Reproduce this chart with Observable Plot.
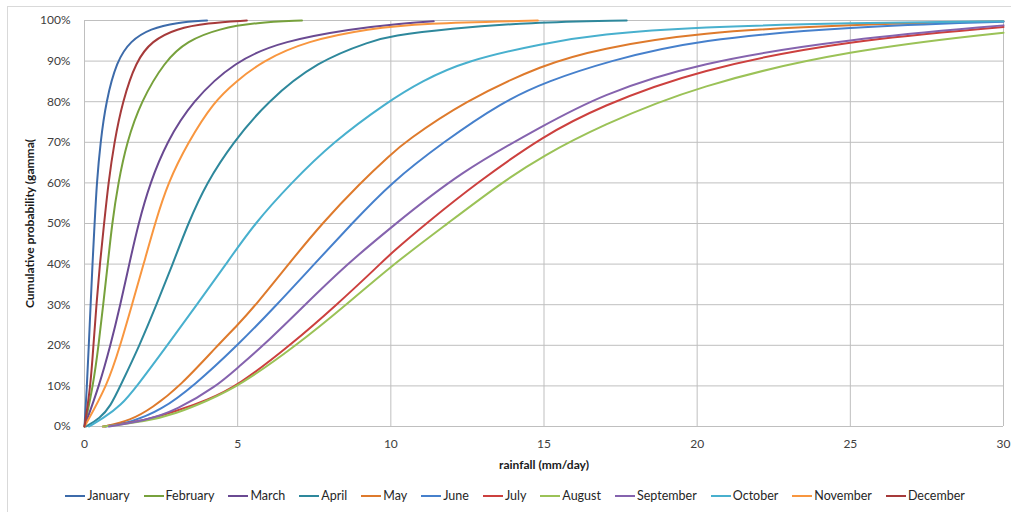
<!DOCTYPE html>
<html>
<head>
<meta charset="utf-8">
<script src="https://cdn.jsdelivr.net/npm/d3@7"></script>
<script src="https://cdn.jsdelivr.net/npm/@observablehq/plot@0.6"></script>
<style>
  body { margin: 0; background: #fff; font-family: Lato, "Open Sans", sans-serif; }
  #wrap { position: relative; width: 1011px; height: 512px; overflow: hidden; }
  #frame { position: absolute; left: 7px; top: 6px; width: 1100px; height: 600px; border: 1px solid #d9d9d9; box-sizing: border-box; }
  #chart { position: absolute; left: 0; top: 0; }
  #legend { position: absolute; left: 0; top: 487px; width: 1030px; display: flex; justify-content: center; gap: 14px; font-size: 12.5px; color: #262626; line-height: 18px; }
  .item { display: flex; align-items: center; gap: 2px; white-space: nowrap; }
  .sw { display: inline-block; width: 20px; height: 2px; }
</style>
</head>
<body>
<div id="wrap">
  <div id="frame"></div>
  <div id="chart"></div>
  <div id="legend"></div>
</div>
<script>
// Months and colours
const months = ["January","February","March","April","May","June","July","August","September","October","November","December"];
const colors = ["#3d6baa","#77a13c","#6a4a92","#2e889c","#de7a2c","#4680cc","#cc403e","#9bc257","#8563ae","#48b0ce","#f8963f","#a63a3a"];

// Axis ticks and labels
const xTicks = [0, 5, 10, 15, 20, 25, 30];
const yTicks = [0, 0.1, 0.2, 0.3, 0.4, 0.5, 0.6, 0.7, 0.8, 0.9, 1];
const xLabel = "rainfall (mm/day)";
const yLabel = "Cumulative probability (gamma(";

// Read-off points: [rainfall mm/day, cumulative %]
const january  = [[0,0],[0.08,10],[0.14,20],[0.2,30],[0.26,40],[0.33,50],[0.4,60],[0.52,70],[0.7,80],[1.05,90],[1.5,95],[2.15,98],[3.0,99.5],[4.0,100]];
const february = [[0,0],[0.28,10],[0.46,20],[0.61,30],[0.76,40],[0.9,50],[1.1,60],[1.38,70],[1.84,80],[2.62,90],[3.35,95],[4.4,98],[5.6,99.5],[7.1,100]];
const march    = [[0,0],[0.48,10],[0.85,20],[1.17,30],[1.46,40],[1.76,50],[2.14,60],[2.68,70],[3.5,80],[4.9,90],[6.5,95],[8.8,98],[10,99],[11.4,99.8]];
const april    = [[0.05,0],[0.5,2],[0.85,5],[1.17,10],[1.8,20],[2.35,30],[2.88,40],[3.38,50],[3.98,60],[4.85,70],[5.96,80],[7.6,90],[9.4,95],[10,96.2],[11.9,98],[14.5,99.5],[17.7,100]];
const may      = [[0.65,0],[1.5,1.5],[2.2,4.5],[3.13,10],[4.35,20],[5.0,25],[5.6,30],[6.66,40],[7.75,50],[9.0,60],[10,67],[10.45,70],[12.37,80],[15,89.3],[16.8,93],[20,97.1],[25,99],[30,99.8]];
const june     = [[0.7,0],[1.5,1],[2.5,4],[3.57,10],[5.0,20],[6.28,30],[7.5,40],[8.73,50],[10,60],[11.7,70],[13.65,80],[15.1,85],[17.1,90],[20,95.3],[25,98.5],[30,99.7]];
const july     = [[0.6,0],[2,1.5],[3,3.8],[4,6.5],[5.0,10],[6.72,20],[8.24,30],[9.65,40],[10,42.6],[11.15,50],[12.8,60],[15,71.7],[16.8,78.7],[20,87.9],[25,95.2],[30,98.4]];
const august   = [[0.6,0],[2,1.2],[3,3.2],[4,6.3],[5.05,10],[6.93,20],[8.55,30],[10,39.5],[11.85,50],[13.6,60],[15,66.8],[16.8,73.9],[20,84],[25,92.8],[30,97.0]];
const september= [[0.8,0],[2,1.5],[3,4],[4.33,10],[5.0,14.5],[5.85,20],[7.2,30],[8.57,40],[10,49],[12.26,62.7],[15,74.2],[16.8,81.5],[20,89.6],[25,95.5],[30,98.8]];
const october  = [[0.15,0],[0.6,2],[1.17,5],[1.72,10],[2.7,20],[3.67,30],[4.62,40],[5.55,50],[6.75,60],[8.1,70],[9.9,80],[11.0,85],[12.4,90],[15,94.4],[16.8,96.6],[20,98.4],[25,99.4],[30,99.8]];
const november = [[0,0],[0.74,10],[1.17,20],[1.55,30],[1.93,40],[2.3,50],[2.72,60],[3.38,70],[4.22,80],[4.95,85],[5.8,90],[7.26,95],[9.3,98],[11,99.3],[14.8,100]];
const december = [[0,0],[0.2,10],[0.29,20],[0.39,30],[0.5,40],[0.64,50],[0.78,60],[0.97,70],[1.24,80],[1.68,90],[2.2,95],[3.0,98],[4.0,99.4],[5.3,100]];

const series = [january, february, march, april, may, june, july, august, september, october, november, december];

const rows = [];
series.forEach((pts, i) => pts.forEach(([x, p]) => rows.push({month: months[i], x, p: p / 100})));

const chart = Plot.plot({
  width: 1011,
  height: 480,
  marginTop: 20,
  marginLeft: 84,
  marginRight: 8,
  marginBottom: 54,
  style: {fontFamily: "Lato, 'Open Sans', sans-serif", fontSize: "12px", color: "#404040", background: "transparent"},
  x: {domain: [0, 30], ticks: xTicks, tickSize: 0, tickPadding: 13, label: null},
  y: {domain: [0, 1], ticks: yTicks, tickFormat: d3.format(".0%"), tickSize: 0, tickPadding: 14, label: null},
  color: {domain: months, range: colors},
  marks: [
    Plot.gridX(xTicks, {stroke: "#bfbfbf", strokeOpacity: 1}),
    Plot.gridY(yTicks, {stroke: "#bfbfbf", strokeOpacity: 1}),
    Plot.line(rows, {x: "x", y: "p", z: "month", stroke: "month", strokeWidth: 2, curve: "basis"}),
    Plot.text([xLabel], {text: d => d, frameAnchor: "bottom", dy: 39, lineAnchor: "middle", textAnchor: "middle", fontWeight: "bold", fill: "#1a1a1a", fontSize: 12}),
    Plot.text([yLabel], {text: d => d, frameAnchor: "left", dx: -54, rotate: -90, lineAnchor: "middle", textAnchor: "middle", fontWeight: "bold", fill: "#1a1a1a", fontSize: 12})
  ]
});
document.getElementById("chart").appendChild(chart);

const legend = document.getElementById("legend");
months.forEach((m, i) => {
  const it = document.createElement("div");
  it.className = "item";
  const sw = document.createElement("span");
  sw.className = "sw";
  sw.style.background = colors[i];
  const tx = document.createElement("span");
  tx.textContent = m;
  it.appendChild(sw);
  it.appendChild(tx);
  legend.appendChild(it);
});
</script>
</body>
</html>
